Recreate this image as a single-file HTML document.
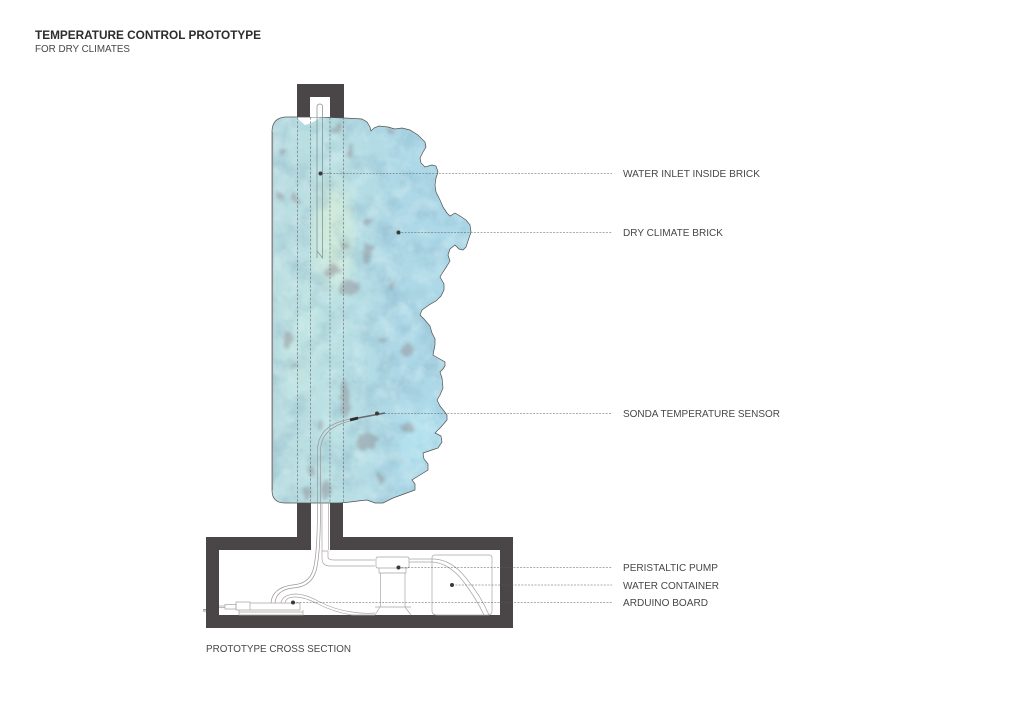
<!DOCTYPE html>
<html>
<head>
<meta charset="utf-8">
<style>
html,body{margin:0;padding:0;background:#fff;width:1024px;height:724px;overflow:hidden}
svg{display:block}
text{font-family:"Liberation Sans",sans-serif;fill:#4a4647;font-size:10.5px}
</style>
</head>
<body>
<svg width="1024" height="724" viewBox="0 0 1024 724" xmlns="http://www.w3.org/2000/svg">
<defs>
<clipPath id="b"><path id="bp" d="M287 117L320 117L345 118L362 119L367 122L370 127L371 131L374 128L379 126L388 127L395 129L402 128L410 130L418 135L425 142L426 147L423 152L420 158L421 163L425 167L432 165L436 166L438 172L436 178L435 185L436 192L440 200L443 207L447 213L450 216L455 213L460 216L466 220L470 225L471 232L468 241L466 247L463 250L459 249L455 245L450 249L448 255L450 261L447 266L443 272L440 277L444 284L444 290L441 296L436 301L429 305L422 310L420 315L424 319L430 326L432 333L435 339L435 345L433 355L438 358L445 362L445 366L443 369L440 372L442 378L443 388L440 395L437 400L440 406L444 411L447 415L447 420L441 427L435 433L441 436L442 442L438 448L432 450L423 453L424 459L428 464L428 470L420 475L412 480L415 484L415 490L404 494L393 498L383 503L375 503L367 500L358 501L350 502L340 503L285 503Q272 503 272 490L272 132Q272 117 287 117Z"/></clipPath>
<filter id="t" x="0" y="0" width="100%" height="100%" color-interpolation-filters="sRGB"><feTurbulence type="fractalNoise" baseFrequency="0.045" numOctaves="5" seed="7"/><feColorMatrix values="0 0 0 0 0.45  0 0 0 0 0.62  0 0 0 0 0.72  2.4 0 0 0 -1.05"/></filter>
<filter id="t2" x="0" y="0" width="100%" height="100%" color-interpolation-filters="sRGB"><feTurbulence type="fractalNoise" baseFrequency="0.06" numOctaves="4" seed="21"/><feColorMatrix values="0 0 0 0 0.86  0 0 0 0 0.95  0 0 0 0 0.96  0 2.6 0 0 -1.15"/></filter>
<filter id="s" x="-60%" y="-60%" width="220%" height="220%" color-interpolation-filters="sRGB"><feTurbulence type="fractalNoise" baseFrequency="0.09" numOctaves="3" seed="4" result="n"/><feDisplacementMap in="SourceGraphic" in2="n" scale="11" xChannelSelector="R" yChannelSelector="G"/><feGaussianBlur stdDeviation="1.5"/></filter>
<filter id="s2"><feGaussianBlur stdDeviation="9"/></filter>
<linearGradient id="g" x1="0" x2="1" y1="0" y2="0"><stop offset="0" stop-color="#b9dce1"/><stop offset=".3" stop-color="#bbe1e3"/><stop offset=".6" stop-color="#aed8e6"/><stop offset="1" stop-color="#abd8e9"/></linearGradient>
</defs>

<!-- dark walls -->
<path fill="#4a4546" fill-rule="evenodd" d="M297 84H344V130H297ZM310 97V130H330V97Z"/>
<path fill="#4a4546" d="M206 537H297V495H311V550H219V615H500V550H330V495H343V537H513V628H206Z"/>

<!-- brick -->
<g clip-path="url(#b)">
<rect x="270" y="115" width="205" height="392" fill="url(#g)"/>
<ellipse cx="333" cy="235" rx="20" ry="55" fill="#d4ecd9" opacity=".85" filter="url(#s2)"/>
<ellipse cx="300" cy="340" rx="18" ry="70" fill="#c3e6e2" opacity=".7" filter="url(#s2)"/>
<ellipse cx="420" cy="440" rx="25" ry="35" fill="#b5e2ef" opacity=".9" filter="url(#s2)"/>
<rect x="270" y="115" width="205" height="392" filter="url(#t)" opacity=".3"/>
<rect x="270" y="115" width="205" height="392" filter="url(#t2)" opacity=".38"/>
<g fill="#8a8289" opacity=".42" filter="url(#s)">
<ellipse cx="350" cy="288" rx="8" ry="8"/><ellipse cx="333" cy="270" rx="7" ry="6"/>
<ellipse cx="367" cy="254" rx="6" ry="11"/><ellipse cx="344" cy="247" rx="3" ry="4"/>
<ellipse cx="288" cy="340" rx="4" ry="10"/><ellipse cx="345" cy="398" rx="4" ry="20"/>
<ellipse cx="366" cy="442" rx="10" ry="9"/><ellipse cx="383" cy="340" rx="3" ry="3"/>
<ellipse cx="407" cy="350" rx="5" ry="8"/><ellipse cx="393" cy="287" rx="4" ry="4"/>
<ellipse cx="326" cy="492" rx="5" ry="9"/><ellipse cx="307" cy="492" rx="3" ry="6"/>
<ellipse cx="380" cy="478" rx="3" ry="6"/><ellipse cx="320" cy="425" rx="3" ry="6"/>
<ellipse cx="408" cy="428" rx="4" ry="6"/><ellipse cx="282" cy="152" rx="3" ry="3"/>
<ellipse cx="335" cy="130" rx="5" ry="3"/><ellipse cx="390" cy="130" rx="6" ry="3"/>
<ellipse cx="296" cy="200" rx="3" ry="6"/><ellipse cx="350" cy="150" rx="3" ry="6"/>
<ellipse cx="280" cy="197" rx="3" ry="3"/><ellipse cx="368" cy="222" rx="3" ry="4"/>
<ellipse cx="312" cy="470" rx="3" ry="5"/><ellipse cx="296" cy="365" rx="3" ry="3"/>
</g>
<path d="M296 117L305 125L310 123.500L317 120L320 117Z" fill="#fff"/>
</g>
<use href="#bp" fill="none" stroke="#4f4f51" stroke-width=".7"/>
<path d="M272.500 132V490" stroke="#8b8b8c" stroke-width="1.2" fill="none"/>

<!-- inner white shafts -->
<rect x="311" y="504" width="19" height="46" fill="#fff"/>
<rect x="310" y="97" width="20" height="20" fill="#fff"/>

<!-- dashed verticals -->
<g stroke="#666a6d" stroke-width=".6" stroke-dasharray="2.6 1.6" fill="none">
<path d="M297.500 117V503M310.500 117V503M330 117V503M343.500 117V503"/>
</g>

<!-- inlet tube -->
<path d="M317 258V107Q317 104 320 104Q322.500 104 322.500 107V258L317 251" fill="none" stroke="#7a8a90" stroke-width=".7"/>

<!-- sensor wire -->
<path d="M350 419Q318 425 317.500 450V505Q317.500 555 313 570Q309 584 292 585Q272 588 271 603" fill="none" stroke="#9b9695" stroke-width=".7"/>
<path d="M350 421Q321 428 320.500 450V505Q320.500 555 316 571Q311 587 293 588Q276 590 275 603" fill="none" stroke="#9b9695" stroke-width=".7"/>
<path d="M350 419.500L385 413" stroke="#6b6a6c" stroke-width="1.6" fill="none"/>
<path d="M350 420L358 418" stroke="#2e2d2e" stroke-width="2.8" fill="none"/>

<!-- pipe -->
<g fill="none" stroke="#aaa5a4" stroke-width=".7">
<path d="M322 503V550M328.500 503V550"/>
<path d="M322 550V558Q322 566 330 566H375M328 551H322M328 551V557Q328 560 334 560H375"/>
<path d="M376 559Q376 557 378 557H407Q409 557 409 559V566Q409 568 407 568H378Q376 568 376 566Z"/>
<path d="M379 568V573H406V568M380.500 573V607M405 573V607M380 607L375 615M405 607L411 615M375 607H411"/>
<path d="M409 559H434Q452 560 466 578Q481 596 489 615M409 562H432Q449 563 463 581Q476 598 484 615"/>
<path d="M432 611V558Q432 555 435 555H489Q492 555 492 558V611Q492 615 488 615H437Q432 615 432 611Z"/>
<path d="M236 602H250V610H236ZM250 603H300V610H250ZM239 612H303V615H239ZM239 610V612M303 610V612"/>
<path d="M225 604.500H236V609H225ZM219 606H225M219 607.500H225"/>
<path d="M281 603Q282 595 295 594Q305 594 318 601Q335 610 352 612Q365 614 375 613M285 603Q286 597 295 597Q304 597 316 603Q333 612 352 615H375"/>
<path d="M203 609.500H206M203 611H206" stroke="#777"/>
</g>

<!-- leaders -->
<g stroke="#5b5b5c" stroke-width=".6" stroke-dasharray="2 1.300" fill="none">
<path d="M320 173.500H612M398 232.500H612M378 413.500H612M398 567.500H612M452 585H612M293 602.500H612"/>
</g>
<g fill="#3a3839">
<circle cx="320.500" cy="173.500" r="2"/><circle cx="398.500" cy="232.500" r="2"/><circle cx="377" cy="413.500" r="2"/>
<circle cx="398.500" cy="567.500" r="2"/><circle cx="452" cy="585" r="2"/><circle cx="293" cy="602.500" r="2"/>
</g>

<!-- text -->
<text x="35" y="39" font-weight="bold" style="font-size:12.3px;fill:#2e2b2c" textLength="226" lengthAdjust="spacingAndGlyphs">TEMPERATURE CONTROL PROTOTYPE</text>
<text x="35" y="52" textLength="95" lengthAdjust="spacingAndGlyphs">FOR DRY CLIMATES</text>
<text x="623" y="177" textLength="137" lengthAdjust="spacingAndGlyphs">WATER INLET INSIDE BRICK</text>
<text x="623" y="236" textLength="100" lengthAdjust="spacingAndGlyphs">DRY CLIMATE BRICK</text>
<text x="623" y="417" textLength="157" lengthAdjust="spacingAndGlyphs">SONDA TEMPERATURE SENSOR</text>
<text x="623" y="571" textLength="95" lengthAdjust="spacingAndGlyphs">PERISTALTIC PUMP</text>
<text x="623" y="589" textLength="96" lengthAdjust="spacingAndGlyphs">WATER CONTAINER</text>
<text x="623" y="606" textLength="85" lengthAdjust="spacingAndGlyphs">ARDUINO BOARD</text>
<text x="206" y="652" textLength="145" lengthAdjust="spacingAndGlyphs">PROTOTYPE CROSS SECTION</text>
</svg>
</body>
</html>
